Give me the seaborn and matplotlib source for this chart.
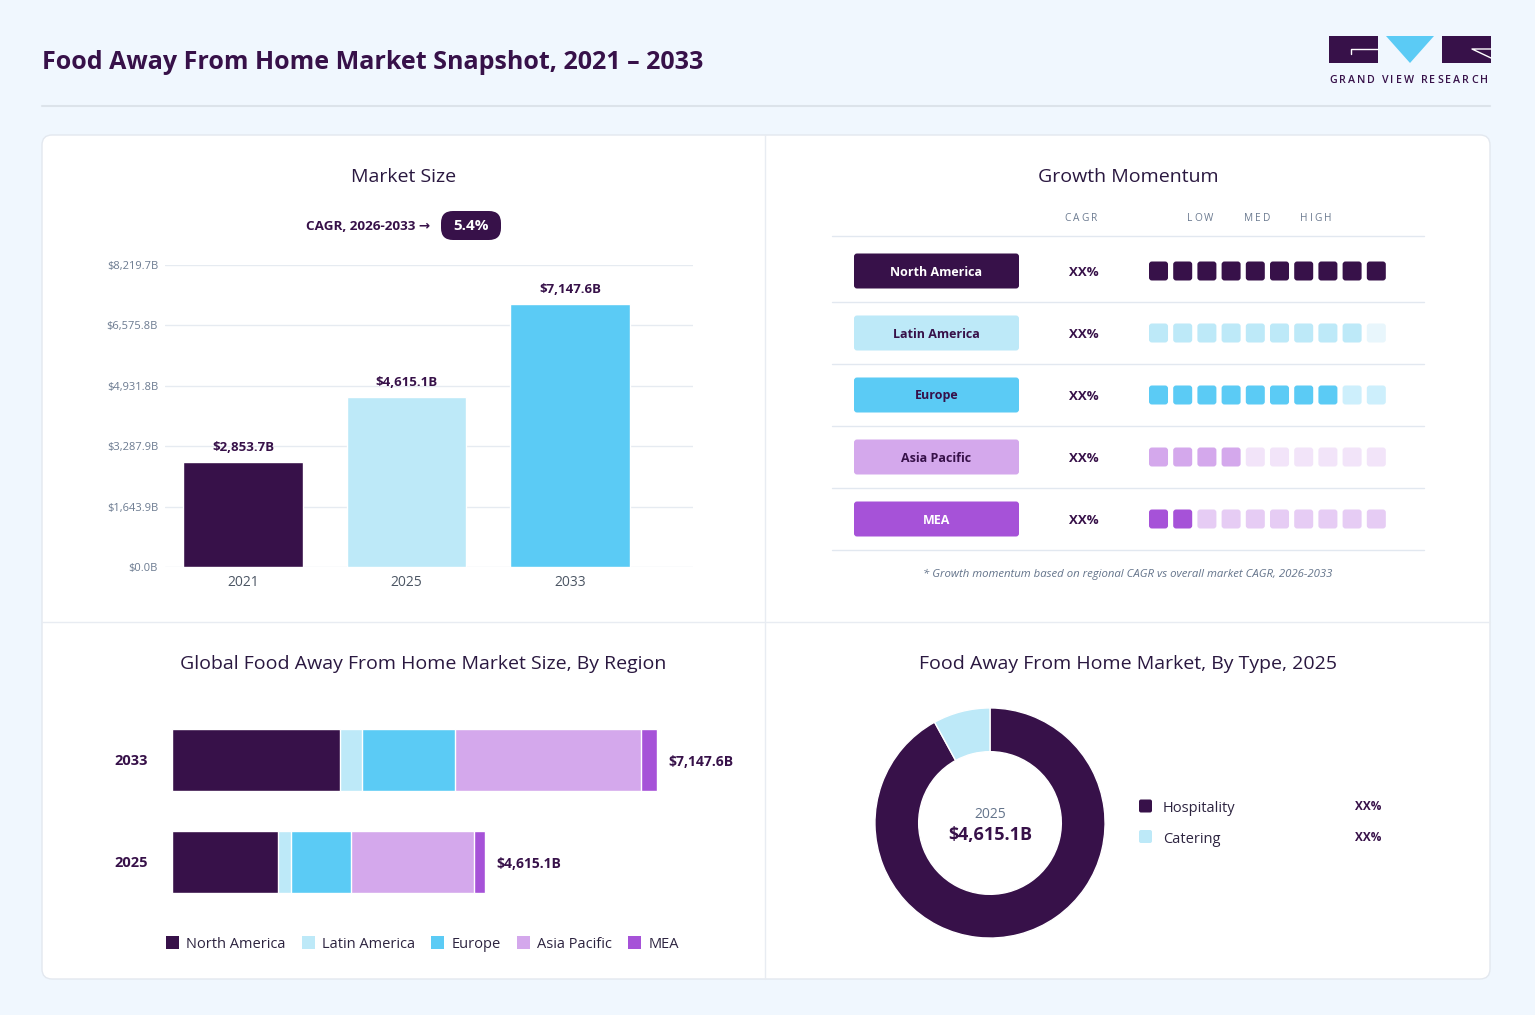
import matplotlib.pyplot as plt
import numpy as np
import pandas as pd
import seaborn as sns
from matplotlib.patches import FancyBboxPatch, Polygon, Rectangle, Patch

W, H = 1535, 1015

# --- market size ---
years = ['2021', '2025', '2033']
market_size = [2853.7, 4615.1, 7147.6]
size_labels = ['$2,853.7B', '$4,615.1B', '$7,147.6B']
y_ticks = [0.0, 1643.9, 3287.9, 4931.8, 6575.8, 8219.7]
y_tick_labels = ['$0.0B', '$1,643.9B', '$3,287.9B', '$4,931.8B', '$6,575.8B', '$8,219.7B']
cagr_value = '5.4%'

# --- growth momentum ---
regions = ['North America', 'Latin America', 'Europe', 'Asia Pacific', 'MEA']
region_cagr = ['XX%', 'XX%', 'XX%', 'XX%', 'XX%']
momentum = [10, 9, 8, 4, 2]
momentum_levels = ['LOW', 'MED', 'HIGH']

# --- market by region ---
region_years = ['2033', '2025']
north_america = [2480.0, 1556.0]
latin_america = [320.0, 202.0]
europe = [1375.0, 884.0]
asia_pacific = [2742.0, 1811.1]
mea = [230.6, 162.0]
region_totals = ['$7,147.6B', '$4,615.1B']

# --- market by type ---
types = ['Hospitality', 'Catering']
type_share = [92, 8]
type_labels = ['XX%', 'XX%']

DARK = '#371149'
GRAY = '#6B7280'
region_colors = ['#371149', '#BDE9F8', '#5BCBF5', '#D4A8EC', '#A652D8']
faded_colors = ['#371149', '#E8F6FC', '#CDEFFC', '#F2E4F9', '#E6CCF4']
label_text_colors = ['white', DARK, DARK, DARK, 'white']
year_colors = ['#371149', '#BDE9F8', '#5BCBF5']
type_colors = ['#371149', '#BDE9F8']

sns.set_theme(style='white')
plt.rcParams['font.family'] = ['Open Sans', 'DejaVu Sans']


def px_rect(x0, y0, x1, y1):
    return [x0 / W, 1 - y1 / H, (x1 - x0) / W, (y1 - y0) / H]


fig = plt.figure(figsize=(W / 100, H / 100), dpi=100)
fig.patch.set_facecolor('#F0F7FE')

bg = fig.add_axes([0, 0, 1, 1], zorder=0)
bg.set_xlim(0, W)
bg.set_ylim(H, 0)
bg.axis('off')


def tracked(x, y, s, gap, ha='center', **kw):
    # draw text with extra letter spacing (pixels)
    r = fig.canvas.get_renderer()
    widths = []
    for ch in s:
        if ch == ' ':
            widths.append(kw.get('fontsize', 8) * 0.4)
            continue
        t = bg.text(0, 0, ch, **kw)
        widths.append(t.get_window_extent(r).width)
        t.remove()
    total = sum(widths) + gap * (len(s) - 1)
    x0 = x - total / 2 if ha == 'center' else x
    for ch, w in zip(s, widths):
        if ch != ' ':
            bg.text(x0, y, ch, ha='left', va='center', **kw)
        x0 += w + gap


# header
bg.text(42, 62, 'Food Away From Home Market Snapshot, 2021 \u2013 2033', fontsize=18,
        fontweight='bold', color=DARK, va='center', ha='left')
bg.plot([42, 1490], [106, 106], color='#DCE3EA', lw=1.5)

# logo
bg.add_patch(Rectangle((1329, 36), 49, 27, fc=DARK, ec='none'))
bg.plot([1378, 1351, 1351], [49, 49, 54], color='white', lw=1)
bg.add_patch(Polygon([(1386, 36), (1434, 36), (1410, 63)], fc='#5BCBF5', ec='none'))
bg.add_patch(Rectangle((1442, 36), 49, 27, fc=DARK, ec='none'))
bg.plot([1491, 1472, 1491], [49, 49, 58], color='white', lw=1)
tracked(1329, 80, 'GRAND VIEW RESEARCH', 2.0, ha='left', fontsize=7.7, color=DARK,
        fontweight='semibold')

# card
bg.add_patch(FancyBboxPatch((42, 135), 1448, 844, boxstyle='round,pad=0,rounding_size=10',
                            fc='white', ec='#E3E8EF', lw=1))
bg.plot([765, 765], [135, 979], color='#E8ECF2', lw=1)
bg.plot([42, 1490], [622, 622], color='#E8ECF2', lw=1)

# panel titles
title_kw = dict(fontsize=14, color='#2A1840', ha='center', va='center')
bg.text(404, 177, 'Market Size', **title_kw)
bg.text(1128, 177, 'Growth Momentum', **title_kw)
bg.text(423, 664, 'Global Food Away From Home Market Size, By Region', **title_kw)
bg.text(1128, 664, 'Food Away From Home Market, By Type, 2025', **title_kw)

# ---------------- Market size bars ----------------
bg.text(430, 226, 'CAGR, 2026-2033 \u2192', fontsize=9.7, fontweight='bold', color=DARK,
        ha='right', va='center')
bg.add_patch(FancyBboxPatch((441, 211), 60, 29, boxstyle='round,pad=0,rounding_size=12',
                            fc=DARK, ec='none'))
bg.text(471, 226, cagr_value, fontsize=11, fontweight='bold', color='white',
        ha='center', va='center')

ax1 = fig.add_axes(px_rect(165, 265, 693, 567))
ax1.patch.set_alpha(0)
ms = pd.DataFrame({'year': years, 'size': market_size})
sns.barplot(data=ms, x='year', y='size', hue='year', palette=year_colors, legend=False,
            width=0.73, saturation=1, ax=ax1, zorder=3)
ax1.set_xlim(-0.477, 2.752)
ax1.set_ylim(0, 8219.7)
ax1.set_yticks(y_ticks)
ax1.set_yticklabels(y_tick_labels)
ax1.grid(axis='y', color='#E6EBF1', lw=1, zorder=0)
ax1.grid(axis='x', visible=False)
ax1.set_xlabel('')
ax1.set_ylabel('')
for s in ax1.spines.values():
    s.set_visible(False)
ax1.tick_params(axis='y', length=0, pad=5, labelsize=8, labelcolor='#6B7A90')
ax1.tick_params(axis='x', length=0, pad=6, labelsize=10, labelcolor='#4B5563')
for i, (v, lab) in enumerate(zip(market_size, size_labels)):
    ax1.annotate(lab, (i, v), xytext=(0, 6), textcoords='offset points', ha='center',
                 va='bottom', fontsize=9.5, fontweight='bold', color=DARK)

# ---------------- Growth momentum ----------------
tracked(1081, 218, 'CAGR', 2.2, fontsize=7.3, color='#6B7A90')
for lvl, x in zip(momentum_levels, [1200, 1257, 1316]):
    tracked(x, 218, lvl, 2.2, fontsize=7.3, color='#6B7A90')

bg.plot([832, 1424], [236, 236], color='#E2E8F0', lw=1)
for i, (reg, cagr) in enumerate(zip(regions, region_cagr)):
    cy = 271 + 62 * i
    bg.plot([832, 1424], [cy + 31, cy + 31], color='#E2E8F0', lw=1)
    bg.add_patch(FancyBboxPatch((854, cy - 17.5), 165, 35, boxstyle='round,pad=0,rounding_size=3',
                                fc=region_colors[i], ec='none'))
    bg.text(936.5, cy + 1, reg, fontsize=9, fontweight='bold', color=label_text_colors[i],
            ha='center', va='center')
    bg.text(1084, cy + 1, cagr, fontsize=9.5, fontweight='bold', color=DARK,
            ha='center', va='center')

ax2 = fig.add_axes(px_rect(1140, 240, 1395, 550))
ax2.axis('off')
ax2.set_xlim(-0.372, 10.165)
ax2.set_ylim(4.5, -0.5)
sq_w, sq_h = 19 / 24.2, 19 / 62
for r, score in enumerate(momentum):
    for c in range(10):
        col = region_colors[r] if c < score else faded_colors[r]
        ax2.add_patch(FancyBboxPatch((c, r - sq_h / 2), sq_w, sq_h,
                                     boxstyle='round,pad=0,rounding_size=0.12',
                                     mutation_aspect=24.2 / 62, fc=col, ec='none'))

bg.text(1128, 574, '* Growth momentum based on regional CAGR vs overall market CAGR, 2026-2033',
        fontsize=8.2, fontstyle='italic', color='#64748B', ha='center', va='center')

# ---------------- Market size by region ----------------
ax3 = fig.add_axes(px_rect(172, 700, 740, 920))
ax3.patch.set_alpha(0)
rg = pd.DataFrame({'year': region_years, 'North America': north_america,
                   'Latin America': latin_america, 'Europe': europe,
                   'Asia Pacific': asia_pacific, 'MEA': mea})
cum = rg[regions].cumsum(axis=1)
for reg, col in reversed(list(zip(regions, region_colors))):
    sns.barplot(x=cum[reg], y=rg['year'], order=region_years, orient='h', color=col,
                saturation=1, width=0.608, ax=ax3)
ax3.set_xlim(0, 8370.2)
ax3.set_ylim(1.569, -0.588)
ax3.set_xticks([])
ax3.set_xlabel('')
ax3.set_ylabel('')
for s in ax3.spines.values():
    s.set_visible(False)
ax3.tick_params(axis='y', length=0, pad=17, labelsize=10.5, labelcolor=DARK)
for lbl in ax3.get_yticklabels():
    lbl.set_fontweight('bold')
for i, lab in enumerate(region_totals):
    ax3.annotate(lab, (cum['MEA'].iloc[i], i), xytext=(8, -1.5), textcoords='offset points',
                 ha='left', va='center', fontsize=10, fontweight='bold', color=DARK)

handles = [Patch(fc=c, ec='none') for c in region_colors]
fig.legend(handles, regions, loc='center', bbox_to_anchor=(422.5 / W, 1 - 944 / H),
           ncol=5, frameon=False, fontsize=10.5, handlelength=0.9, handleheight=0.9,
           handletextpad=0.5, columnspacing=1.1, labelcolor='#2D2440')

# ---------------- Donut ----------------
ax4 = fig.add_axes(px_rect(870, 703, 1110, 943))
ax4.pie(type_share, colors=type_colors, startangle=90, counterclock=False, radius=1,
        wedgeprops=dict(width=0.38, edgecolor='white', linewidth=1))
ax4.set_xlim(-1.043, 1.043)
ax4.set_ylim(-1.043, 1.043)
ax4.set_aspect('equal')
ax4.text(0, 0.078, '2025', fontsize=10, color='#64748B', ha='center', va='center')
ax4.text(0, -0.104, '$4,615.1B', fontsize=13, fontweight='bold', color=DARK,
         ha='center', va='center')

for i, (t, lab) in enumerate(zip(types, type_labels)):
    cy = 806 + 30.5 * i
    bg.add_patch(FancyBboxPatch((1139, cy - 6.5), 13, 13, boxstyle='round,pad=0,rounding_size=2',
                                fc=type_colors[i], ec='none'))
    bg.text(1163, cy + 3, t, fontsize=10.5, color='#2D2440', ha='left', va='center')
    bg.text(1368, cy + 1, lab, fontsize=8.5, fontweight='bold', color=DARK,
            ha='center', va='center')

fig.savefig('out.png', dpi=100, facecolor=fig.get_facecolor())
